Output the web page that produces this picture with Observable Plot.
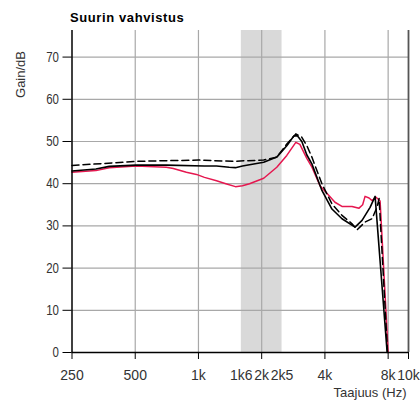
<!DOCTYPE html>
<html>
<head>
<meta charset="utf-8">
<script src="https://cdn.jsdelivr.net/npm/d3@7"></script>
<script src="https://cdn.jsdelivr.net/npm/@observablehq/plot@0.6"></script>
<style>
  html, body { margin: 0; padding: 0; background: #fff; }
  #title { box-sizing: border-box; height: 29px; padding: 10px 0 0 70px; font: bold 13px/15px "Liberation Sans", Arial, sans-serif; letter-spacing: 0.6px; color: #000; }
  #chart svg { display: block; }
</style>
</head>
<body>
<div id="title">Suurin vahvistus</div>
<div id="chart"></div>
<script>
// Red curve
const redFreq = [250, 325, 376, 505, 703, 759, 876, 978, 1068, 1219, 1350, 1500, 1620, 1750, 2045, 2360, 2634, 2907, 3040, 3280, 3470, 3790, 4180, 4465, 4820, 5385, 5815, 6050, 6211, 6490, 6710, 7010, 7325, 8000];
const redGain = [42.7, 43.1, 43.8, 44.2, 43.9, 43.6, 42.7, 42.2, 41.5, 40.7, 40.0, 39.3, 39.5, 40.0, 41.3, 43.9, 46.7, 49.8, 49.3, 46.0, 43.9, 39.5, 37.2, 35.6, 34.6, 34.6, 34.2, 35.0, 37.0, 36.6, 36.0, 36.8, 35.9, 0];
// Solid black curve
const solidFreq = [250, 325, 376, 505, 703, 1068, 1219, 1400, 1500, 1620, 1750, 2045, 2360, 2634, 2844, 2950, 3106, 3282, 3467, 3870, 4320, 4823, 5565, 6010, 6562, 6935, 7913];
const solidGain = [43.0, 43.5, 44.1, 44.4, 44.4, 44.2, 44.2, 43.9, 43.8, 44.2, 44.5, 45.1, 46.3, 49.0, 51.3, 51.4, 50.0, 46.8, 44.7, 38.4, 34.0, 31.7, 29.7, 31.3, 34.4, 37.0, 0];
// Dashed black curve
const dashFreq = [250, 505, 1000, 1450, 2045, 2360, 2634, 2907, 3106, 3282, 3467, 3870, 4320, 4823, 5385, 5700, 6211, 6708, 7088, 7245, 7950];
const dashGain = [44.3, 45.3, 45.6, 45.3, 45.6, 46.3, 49.4, 51.8, 51.0, 49.0, 46.3, 40.0, 35.2, 32.5, 30.5, 29.1, 30.9, 31.7, 34.5, 36.5, 0];

const xTicks = [250, 500, 1000, 1600, 2000, 2500, 4000, 8000, 10000];
const xTickLabels = ["250", "500", "1k", "1k6", "2k", "2k5", "4k", "8k", "10k"];
const xMajor = [250, 500, 1000, 2000, 4000, 8000, 10000];
const xGrid = [500, 1000, 2000, 4000, 8000];
const yTicks = [0, 10, 20, 30, 40, 50, 60, 70];
const band = [{from: 1600, to: 2500}];

const toRows = (f, g) => f.map((d, i) => ({f: d, g: g[i]}));
const xLabelRows = xTicks.map((d, i) => ({f: d, label: xTickLabels[i]}));

const chart = Plot.plot({
  width: 420,
  height: 373,
  marginLeft: 71.5,
  marginRight: 12,
  marginTop: 1,
  marginBottom: 50,
  style: {fontFamily: "'Liberation Sans', Arial, sans-serif", fontSize: "14px", color: "#333", background: "#fff"},
  x: {type: "log", domain: [250, 10000], label: null},
  y: {domain: [0, 76.3], label: null},
  marks: [
    Plot.rect(band, {x1: "from", x2: "to", fill: "#d9d9d9"}),
    Plot.ruleX(xGrid, {stroke: "#a8a8a8", strokeWidth: 1.2}),
    Plot.ruleY(yTicks.filter(d => d > 0), {stroke: "#a8a8a8", strokeWidth: 1.2}),
    Plot.line(toRows(redFreq, redGain), {x: "f", y: "g", stroke: "#e5174f", strokeWidth: 1.5}),
    Plot.line(toRows(solidFreq, solidGain), {x: "f", y: "g", stroke: "#000", strokeWidth: 1.6}),
    Plot.line(toRows(dashFreq, dashGain), {x: "f", y: "g", stroke: "#000", strokeWidth: 1.5, strokeDasharray: "7,4"}),
    Plot.ruleX([10000], {stroke: "#555", strokeWidth: 1.8}),
    Plot.ruleX([250], {stroke: "#000", strokeWidth: 1.5}),
    Plot.ruleY([0], {stroke: "#000", strokeWidth: 1.5}),
    Plot.axisY(yTicks, {tickSize: 9, tickPadding: 4, stroke: "#000", fill: "#333", label: null}),
    Plot.axisX(xMajor, {tickSize: 7, tickFormat: () => "", stroke: "#000", label: null}),
    Plot.text(xLabelRows, {x: "f", text: "label", frameAnchor: "bottom", dy: 18, lineAnchor: "top", fill: "#333", fontSize: 14, ariaLabel: "xlabels"}),
    Plot.text(["Taajuus (Hz)"], {frameAnchor: "bottom-right", dx: -2, dy: 40, textAnchor: "end", lineAnchor: "middle", fontSize: 13, fill: "#333"}),
    Plot.text(["Gain/dB"], {frameAnchor: "top-left", rotate: -90, dx: -51.5, dy: 44, textAnchor: "middle", lineAnchor: "middle", fontSize: 13, fill: "#333"})
  ]
});
document.getElementById("chart").appendChild(chart);
// Condense tick label glyphs to match the narrow typeface of the original
chart.querySelectorAll("g[aria-label='xlabels'] text, g[aria-label='y-axis tick label'] text").forEach(t => {
  const w = t.getComputedTextLength();
  if (w > 0) {
    t.setAttribute("textLength", (w * 0.82).toFixed(2));
    t.setAttribute("lengthAdjust", "spacingAndGlyphs");
  }
});
</script>
</body>
</html>
